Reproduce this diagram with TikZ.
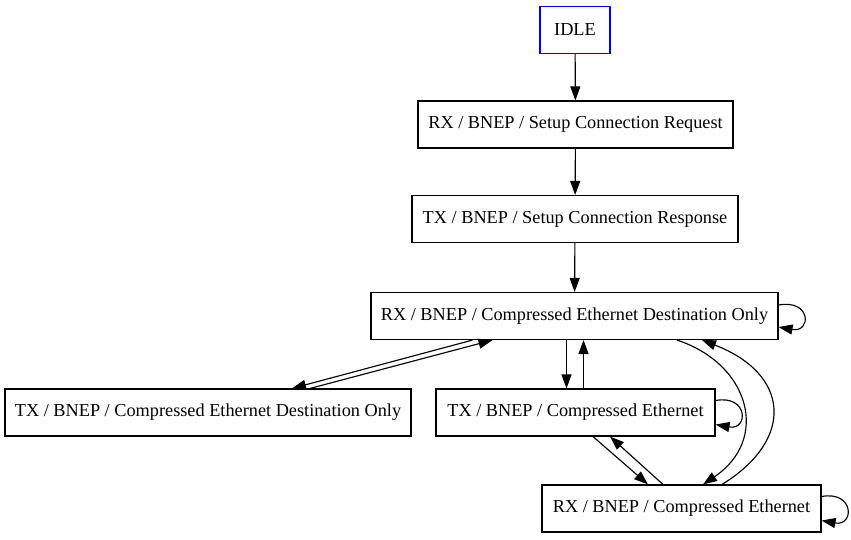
\documentclass[tikz,border=0pt]{standalone}
\usepackage{fontspec}
\setmainfont{Liberation Serif}
\usetikzlibrary{arrows.meta,calc}
\begin{document}
\begin{tikzpicture}[x=0.02cm, y=-0.02cm, line width=0.65pt,
  >={Triangle[length=0.28cm, width=0.2cm]},
  state/.style={draw, rectangle, minimum height=0.94cm, inner sep=0pt,
    font=\fontsize{10.4pt}{12pt}\selectfont}]
\useasboundingbox (0,0) rectangle (851,539);
\node[state, draw=blue, minimum width=1.4cm] (idle) at (575,30) {IDLE};
\node[state, minimum width=6.3cm] (req) at (575.5,124.5) {RX / BNEP / Setup Connection Request};
\node[state, minimum width=6.52cm] (resp) at (575,219) {TX / BNEP / Setup Connection Response};
\node[state, minimum width=8.14cm] (rxcedo) at (574.5,316) {RX / BNEP / Compressed Ethernet Destination Only};
\node[state, minimum width=8.12cm] (txcedo) at (208,412.5) {TX / BNEP / Compressed Ethernet Destination Only};
\node[state, minimum width=5.58cm] (txce) at (575.5,412.5) {TX / BNEP / Compressed Ethernet};
\node[state, minimum width=5.58cm] (rxce) at (681.5,508.5) {RX / BNEP / Compressed Ethernet};
\draw[->] (idle) -- (req);
\draw[->] (req) -- (resp);
\draw[->] (resp) -- (rxcedo);
\draw[->] ($(rxcedo.east)+(0,-11)$) .. controls +(33,-6) and +(33,6) .. ($(rxcedo.east)+(0,11)$);
\draw[->] ($(rxcedo.south)+(-102,0)$) -- ($(txcedo.north)+(84,0)$);
\draw[->] ($(txcedo.north)+(102,0)$) -- ($(rxcedo.south)+(-82,0)$);
\draw[->] ($(rxcedo.south)+(-8,0)$) -- ($(txce.north)+(-9,0)$);
\draw[->] ($(txce.north)+(8,0)$) -- ($(rxcedo.south)+(9,0)$);
\draw[->] ($(txce.east)+(0,-12)$) .. controls +(33,-6) and +(33,6) .. ($(txce.east)+(0,12)$);
\draw[->] ($(rxcedo.south)+(102.5,0)$) .. controls +(73,24) and +(67,-45) .. ($(rxce.north)+(21.5,0)$);
\draw[->] ($(rxce.north)+(40.5,0)$) .. controls +(73,-45) and +(88,34) .. ($(rxcedo.south)+(127.5,0)$);
\draw[->] ($(txce.south)+(17.5,0)$) -- ($(rxce.north)+(-33.5,0)$);
\draw[->] ($(rxce.north)+(-18.5,0)$) -- ($(txce.south)+(34.5,0)$);
\draw[->] ($(rxce.east)+(0,-12)$) .. controls +(33,-6) and +(33,6) .. ($(rxce.east)+(0,12)$);
\end{tikzpicture}
\end{document}
